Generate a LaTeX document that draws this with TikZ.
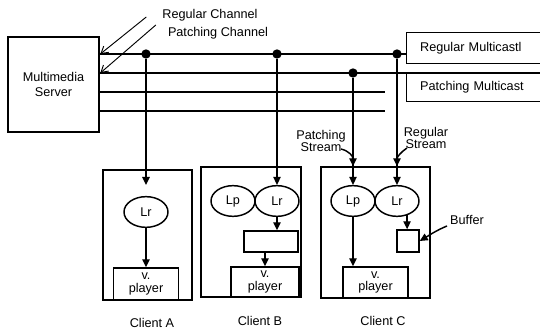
\documentclass[tikz,border=0pt]{standalone}
\usepackage{fontspec}
\setmainfont{Liberation Sans}
\usetikzlibrary{positioning}
\usetikzlibrary{arrows.meta}
\usetikzlibrary{shapes.geometric}

\begin{document}
\begin{tikzpicture}[x=0.75pt,y=-0.75pt,line width=1.1pt,
    font=\fontsize{9.5}{11.4}\selectfont,
    srvbox/.style={draw, align=center, inner sep=0pt, minimum width=91*0.75pt, minimum height=95*0.75pt},
    mcbox/.style={inner sep=0pt, minimum width=141*0.75pt, minimum height=22.5pt, text width=86pt, align=left},
    clientbox/.style={draw, inner sep=0pt},
    layer/.style={draw, ellipse, inner sep=0pt, minimum width=33pt, minimum height=23pt},
    player/.style={draw, align=center, inner sep=0pt, minimum width=65*0.75pt, minimum height=24pt, font=\fontsize{9.5}{9.5}\selectfont},
    buf/.style={draw, inner sep=0pt},
    dot/.style={circle, fill, inner sep=0pt, minimum size=7pt},
    stream/.style={align=center, inner sep=0pt, font=\fontsize{9.5}{9}\selectfont},
    feed/.style={-{Triangle[length=6pt,width=5.5pt]}},
    chan/.style={line width=0.7pt, -{Straight Barb[length=5pt,width=6pt]}}]
  \useasboundingbox (0,0) rectangle (540,331);

  % server, multicast boxes and the four channel lines
  \node[srvbox] (server) at (53.5,84.5) {Multimedia\\Server};
  \foreach \y [count=\i] in {54,73,92,111}
    {\coordinate (s\i) at (99,\y);}

  \node[mcbox] (regMc) at (477.5,48) {Regular Multicastl};
  \node[mcbox, minimum height=21pt] (patMc) at (477.5,87) {Patching Multicast};
  \draw (regMc.north east) -- (regMc.north west) -- (regMc.south west) -- (regMc.south east);
  \draw (patMc.north east) -- (patMc.north west) -- (patMc.south west) -- (patMc.south east);

  \coordinate (e2) at (548,73);
  \coordinate (e3) at (385,92);
  \coordinate (e4) at (385,111);
  \draw (s1) -- (regMc.west |- s1);
  \draw (s2) -- (e2);
  \draw (s3) -- (e3);
  \draw (s4) -- (e4);

  % taps on the channels
  \foreach \n/\x/\y in {d1/146/54, d2/277/54, d3/397/54, d4/353/73}
    {\node[dot] (\n) at (\x,\y) {};}

  \node (rcLbl) at (210,15) {Regular Channel};
  \node (pcLbl) at (218,33) {Patching Channel};
  \draw[chan] ([shift={(-11,2)}]rcLbl.west) -- ([xshift=1pt]s1);
  \draw[chan] ([shift={(-7,-8)}]pcLbl.west) -- ([xshift=1pt]s2);

  % client A
  \node[clientbox, minimum width=89*0.75pt, minimum height=130*0.75pt] (cliA) at (147.5,235) {};
  \node[layer] (lrA) at (146,212) {Lr};
  \node[player] (vpA) at (146,284) {v.\\player};
  \coordinate (inA) at (146,185);
  \draw[feed] (d1) -- (inA);
  \draw[feed] (lrA) -- (vpA);
  \node (labA) at (152,323) {Client A};

  % client B
  \node[clientbox, minimum width=100*0.75pt, minimum height=130*0.75pt] (cliB) at (251,232) {};
  \node[layer] (lpB) at (233,201) {Lp};
  \node[layer] (lrB) at (277,201) {Lr};
  \node[buf, minimum width=54*0.75pt, minimum height=21*0.75pt] (bufB) at (271,241.5) {};
  \node[player, minimum width=68*0.75pt, minimum height=30*0.75pt] (vpB) at (265,282) {v.\\player};
  \draw[feed] (d2) -- (lrB);
  \draw[feed] (lrB) -- (lrB |- bufB.north);
  \draw[feed] (bufB.south -| vpB) -- (vpB);
  \node (labB) at (260,321) {Client B};

  % client C
  \node[clientbox, minimum width=109*0.75pt, minimum height=131*0.75pt] (cliC) at (375.5,232.5) {};
  \node[layer] (lpC) at (353,201) {Lp};
  \node[layer] (lrC) at (397,201) {Lr};
  \node[buf, minimum size=22*0.75pt] (bufC) at (408,241) {};
  \node[player, minimum height=31*0.75pt] (vpC) at (375.5,282.5) {v.\\player};
  \draw[feed] (d4) -- (lpC);
  \draw[feed] (d3) -- (lrC);
  \draw[feed] (lrC.-55) -- (lrC.-55 |- bufC.north);
  \draw[feed] (lpC) -- (lpC |- vpC.north);
  \node (labC) at (383,321) {Client C};

  % stream and buffer labels
  \node[stream] (psLbl) at (321,141) {Patching\\Stream};
  \node[stream] (rsLbl) at (426,138) {Regular\\Stream};
  \node (bufLbl) at (467,220) {Buffer};
  \coordinate (psTail) at (341,149);
  \coordinate (rsTail) at (407,148);
  \coordinate (bfTail) at (447,226);
  \draw[feed] (psTail) .. controls (349,151) and (353,156) .. (d4 |- cliC.north);
  \draw[feed] (rsTail) .. controls (401,152) and (397,157) .. (d3 |- cliC.north);
  \draw[feed] (bfTail) .. controls (437,230) and (428,236) .. (bufC.east);
\end{tikzpicture}
\end{document}
